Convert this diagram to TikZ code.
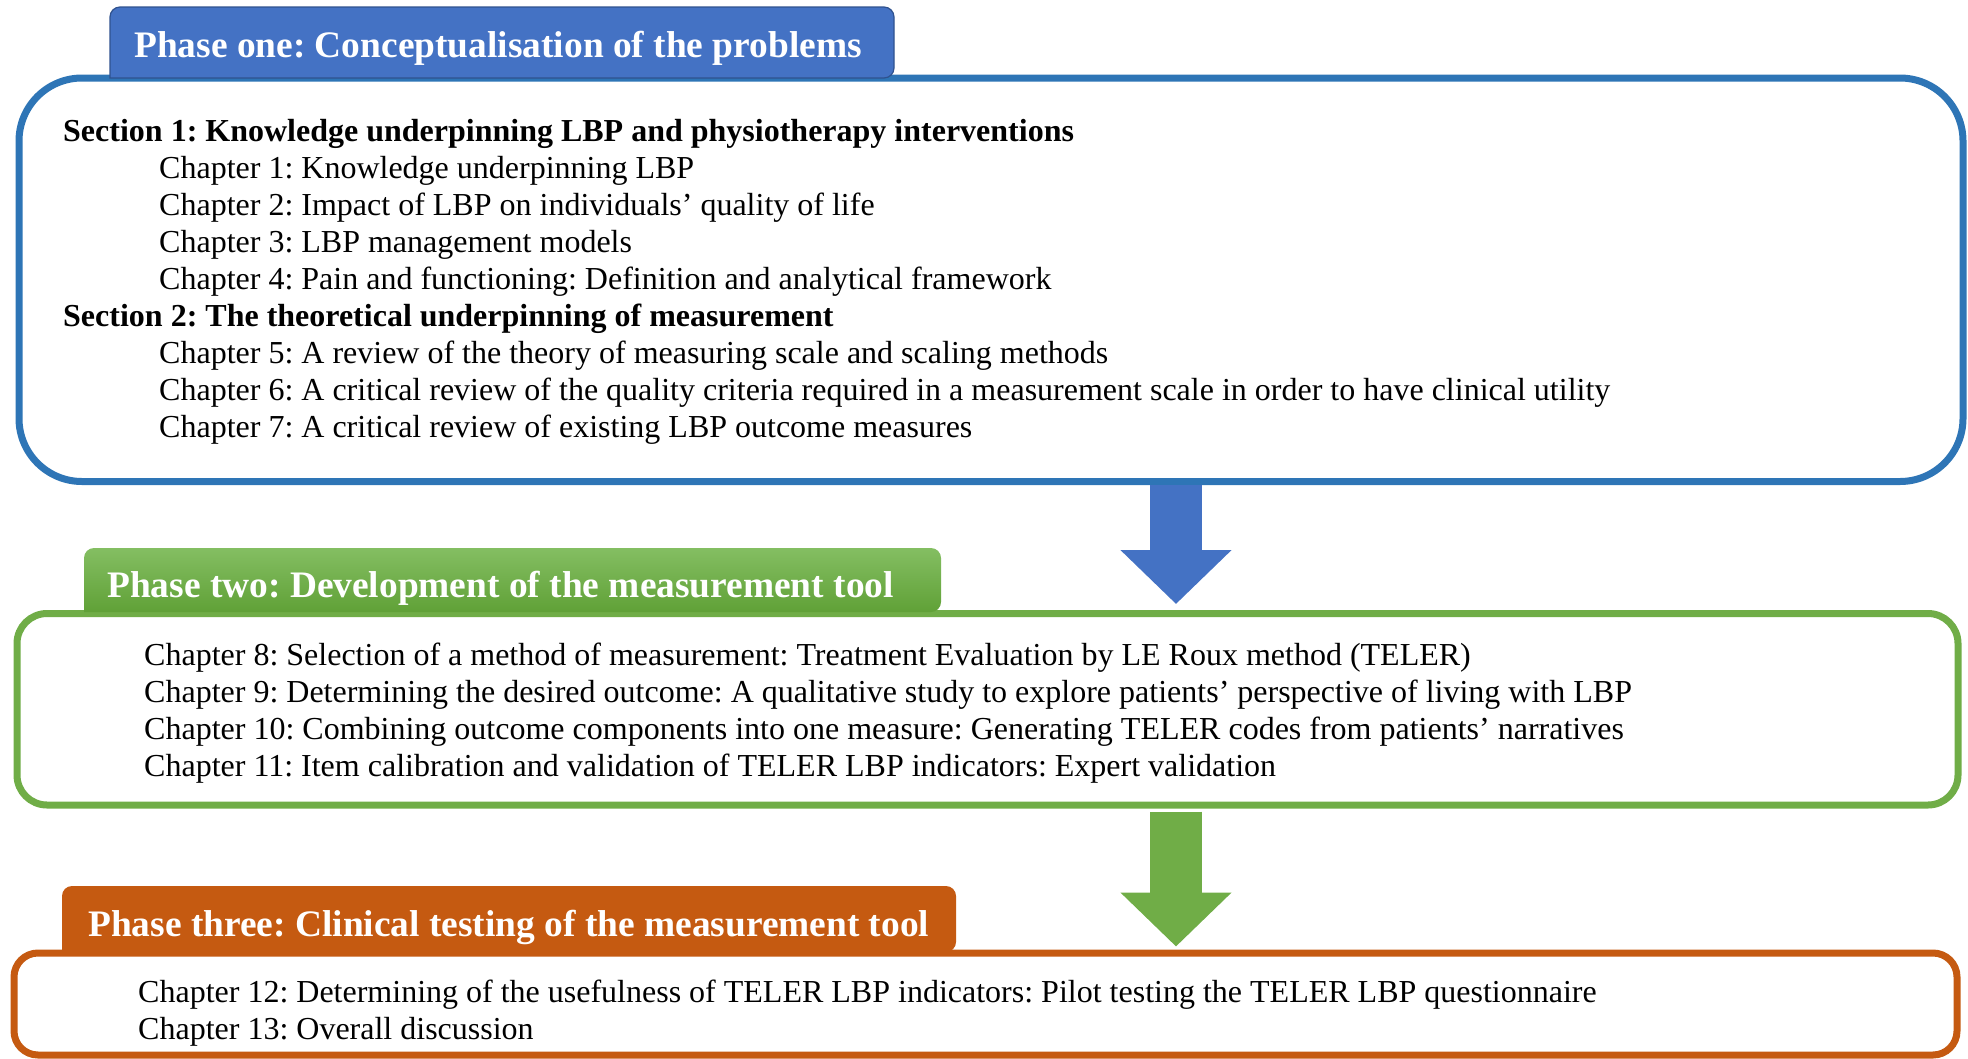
\documentclass[tikz,border=0pt]{standalone}
\usepackage{fontspec}
\setmainfont{Liberation Serif}
\usetikzlibrary{arrows.meta,calc}
\frenchspacing

\definecolor{boxblue}{HTML}{2E75B6}
\definecolor{tabblue}{HTML}{4472C4}
\definecolor{taboutline}{HTML}{2F528F}
\definecolor{boxgreen}{HTML}{70AD47}
\definecolor{tabgreentop}{HTML}{84BE62}
\definecolor{tabgreenbot}{HTML}{60A137}
\definecolor{boxorange}{HTML}{C55A11}

\tikzset{
  frame/.style={draw=#1, line width=7pt, inner sep=0pt, fill=white},
  body/.style={anchor=base west, inner sep=0pt, font=\fontsize{32}{37}\selectfont},
  headline/.style={anchor=base west, inner sep=0pt, font=\fontsize{32}{37}\selectfont\bfseries},
  tabtext/.style={anchor=base west, inner sep=0pt, text=white, font=\fontsize{37.4}{42}\selectfont\bfseries},
  flow/.style={draw=#1, line width=52pt, -{Triangle[width=108pt,length=54pt]}}
}

\begin{document}
\begin{tikzpicture}[x=1pt,y=-1pt]
\useasboundingbox (0,0) rectangle (1968,1058);

% ---------- phase boxes ----------
\node[frame=boxblue, rounded corners=63pt, minimum width=1944pt, minimum height=403.5pt]
  (boxone) at (991,279.75) {};
\node[frame=boxgreen, rounded corners=30pt, minimum width=1941pt, minimum height=191.5pt]
  (boxtwo) at (987.5,709.25) {};
\node[frame=boxorange, rounded corners=24pt, minimum width=1943pt, minimum height=102pt]
  (boxthree) at (985.5,1004) {};

% ---------- tabs ----------
\draw[fill=tabblue, draw=taboutline, line width=1.2pt]
  (110,78) {[rounded corners=10pt] -- (110,7) -- (894,7) -- (894,78)} -- cycle;
\shade[top color=tabgreentop, bottom color=tabgreenbot]
  (84,612) {[rounded corners=10pt] -- (84,548) -- (941,548) -- (941,612)} -- cycle;
\fill[boxorange]
  (62,952) {[rounded corners=10pt] -- (62,886) -- (956,886) -- (956,952)} -- cycle;

\node[tabtext] (tabone) at (134,57) {Phase one: Conceptualisation of the problems};
\node[tabtext] (tabtwo) at (107,597) {Phase two: Development of the measurement tool};
\node[tabtext] (tabthree) at (88,936) {Phase three: Clinical testing of the measurement tool};

% ---------- phase one contents ----------
\node[headline] (sec1) at (63,141.5) {Section 1: Knowledge underpinning LBP and physiotherapy interventions};
\node[body] (ch1) at (159,178.5) {Chapter 1: Knowledge underpinning LBP};
\node[body] (ch2) at (159,215.5) {Chapter 2: Impact of LBP on individuals’ quality of life};
\node[body] (ch3) at (159,252.5) {Chapter 3: LBP management models};
\node[body] (ch4) at (159,289.5) {Chapter 4: Pain and functioning: Definition and analytical framework};
\node[headline] (sec2) at (63,326.5) {Section 2: The theoretical underpinning of measurement};
\node[body] (ch5) at (159,363.5) {Chapter 5: A review of the theory of measuring scale and scaling methods};
\node[body] (ch6) at (159,400.5) {Chapter 6: A critical review of the quality criteria required in a measurement scale in order to have clinical utility};
\node[body] (ch7) at (159,437.5) {Chapter 7: A critical review of existing LBP outcome measures};

% ---------- phase two contents ----------
\node[body] (ch8) at (144,665) {Chapter 8: Selection of a method of measurement: Treatment Evaluation by LE Roux method (TELER)};
\node[body] (ch9) at (144,702) {Chapter 9: Determining the desired outcome: A qualitative study to explore patients’ perspective of living with LBP};
\node[body] (ch10) at (144,739) {Chapter 10: Combining outcome components into one measure: Generating TELER codes from patients’ narratives};
\node[body] (ch11) at (144,776) {Chapter 11: Item calibration and validation of TELER LBP indicators: Expert validation};

% ---------- phase three contents ----------
\node[body] (ch12) at (138,1002.5) {Chapter 12: Determining of the usefulness of TELER LBP indicators: Pilot testing the TELER LBP questionnaire};
\node[body] (ch13) at (138,1039.5) {Chapter 13: Overall discussion};

% ---------- block arrows between phases ----------
\coordinate (axis) at (1176,0);
\draw[flow=tabblue, shorten >=6pt] (boxone.south -| axis) -- (boxtwo.north -| axis);
\draw[flow=boxgreen, shorten <=3pt, shorten >=3pt] (boxtwo.south -| axis) -- (boxthree.north -| axis);
\end{tikzpicture}
\end{document}
